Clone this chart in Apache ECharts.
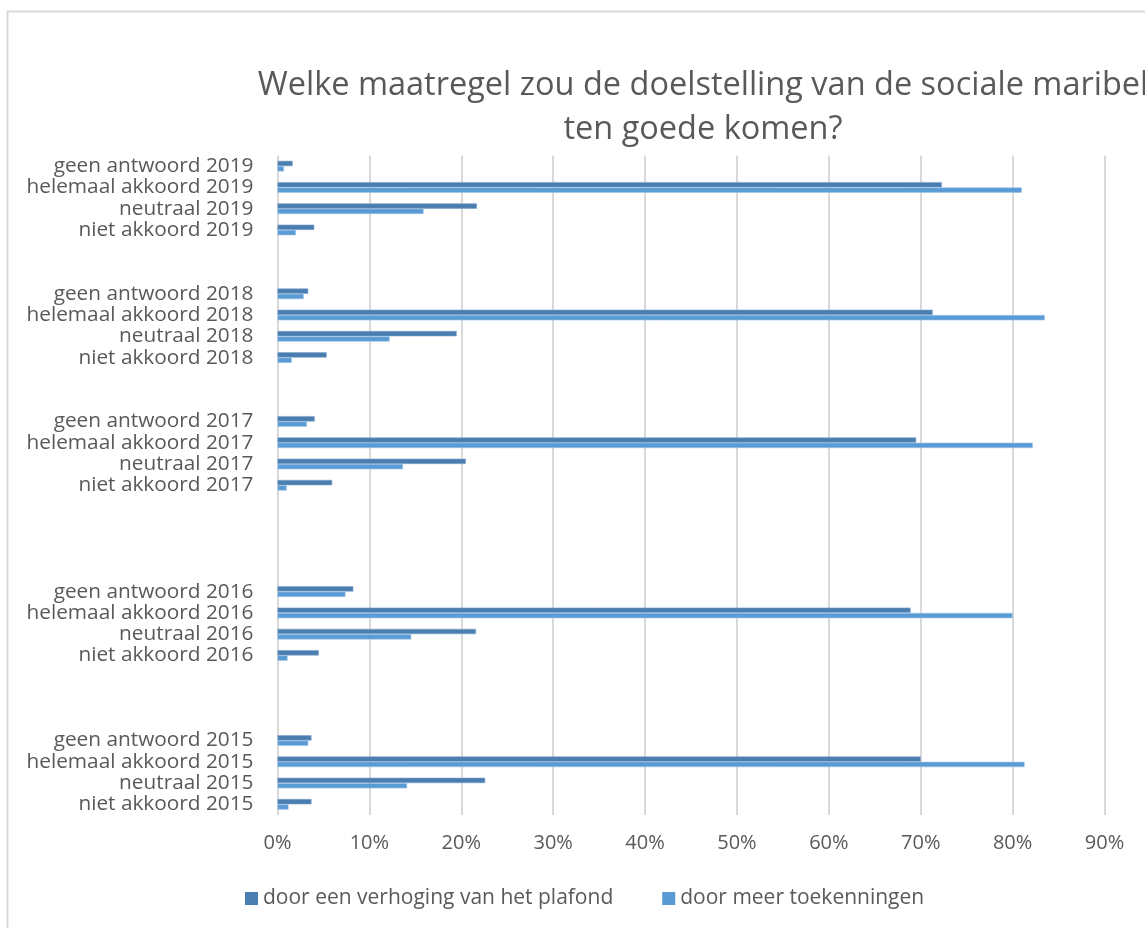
<!DOCTYPE html>
<html>
<head>
<meta charset="utf-8">
<script src="https://cdn.jsdelivr.net/npm/echarts@6/dist/echarts.min.js"></script>
<style>
html,body{margin:0;padding:0;background:#fff;}
#c{width:1145px;height:928px;}
</style>
</head>
<body>
<div id="c"></div>
<script>
var titleLines = ['Welke maatregel zou de doelstelling van de sociale maribel', 'ten goede komen?'];
var seriesNames = ['door een verhoging van het plafond', 'door meer toekenningen'];
var categories = [
  'geen antwoord 2019','helemaal akkoord 2019','neutraal 2019','niet akkoord 2019','','',
  'geen antwoord 2018','helemaal akkoord 2018','neutraal 2018','niet akkoord 2018','','',
  'geen antwoord 2017','helemaal akkoord 2017','neutraal 2017','niet akkoord 2017','','','','',
  'geen antwoord 2016','helemaal akkoord 2016','neutraal 2016','niet akkoord 2016','','','',
  'geen antwoord 2015','helemaal akkoord 2015','neutraal 2015','niet akkoord 2015'
];
var plafond = [
  1.65, 72.3, 21.7, 4.0, null, null,
  3.35, 71.3, 19.5, 5.35, null, null,
  4.05, 69.5, 20.5, 5.95, null, null, null, null,
  8.25, 68.9, 21.6, 4.5, null, null, null,
  3.7, 70.0, 22.6, 3.7
];
var toekenningen = [
  0.7, 81.0, 15.9, 2.0, null, null,
  2.85, 83.5, 12.2, 1.55, null, null,
  3.2, 82.2, 13.65, 1.0, null, null, null, null,
  7.4, 80.0, 14.55, 1.1, null, null, null,
  3.35, 81.3, 14.1, 1.2
];
var xTicks = [0, 10, 20, 30, 40, 50, 60, 70, 80, 90];

var FONT = 'Open Sans';
var TXT = '#595959';
var chart = echarts.init(document.getElementById('c'), null, {renderer: 'canvas'});
chart.setOption({
  backgroundColor: '#fff',
  animation: false,
  title: {
    text: titleLines.join('\n'),
    left: 698, top: 59, textAlign: 'center',
    textStyle: {fontFamily: FONT, fontSize: 32.5, fontWeight: 'normal', color: TXT, lineHeight: 44}
  },
  graphic: [{
    type: 'rect', shape: {x: 7.5, y: 11.5, width: 1200, height: 1000},
    style: {fill: 'none', stroke: '#d9d9d9', lineWidth: 2}, silent: true
  }],
  legend: {
    data: seriesNames,
    left: 245, top: 888, padding: 0,
    itemWidth: 13, itemHeight: 13, itemGap: 49,
    icon: 'rect',
    itemStyle: {borderWidth: 0},
    textStyle: {fontFamily: FONT, fontSize: 21, color: TXT}
  },
  grid: {left: 277.5, width: 827, top: 155.5, height: 659.5, containLabel: false},
  xAxis: {
    type: 'value', min: 0, max: 90, interval: 10,
    axisLine: {show: false}, axisTick: {show: false},
    splitLine: {lineStyle: {color: '#d9d9d9', width: 2}},
    axisLabel: {
      fontFamily: FONT, fontSize: 20, color: TXT, margin: 18,
      formatter: function (v) { return xTicks.indexOf(v) >= 0 ? v + '%' : ''; }
    }
  },
  yAxis: {
    type: 'category', data: categories, inverse: true,
    axisLine: {show: false}, axisTick: {show: false},
    axisLabel: {fontFamily: FONT, fontSize: 20.8, color: TXT, margin: 24, interval: 0}
  },
  series: [
    {name: seriesNames[0], type: 'bar', data: plafond, barWidth: '25%', barGap: '0%',
     itemStyle: {color: '#4a7eb1', borderColor: '#7fa3c8', borderWidth: 0.6}},
    {name: seriesNames[1], type: 'bar', data: toekenningen, barWidth: '25%', barGap: '0%',
     itemStyle: {color: '#5b9bd5', borderColor: '#9cc3e8', borderWidth: 0.6}}
  ]
});
</script>
</body>
</html>
